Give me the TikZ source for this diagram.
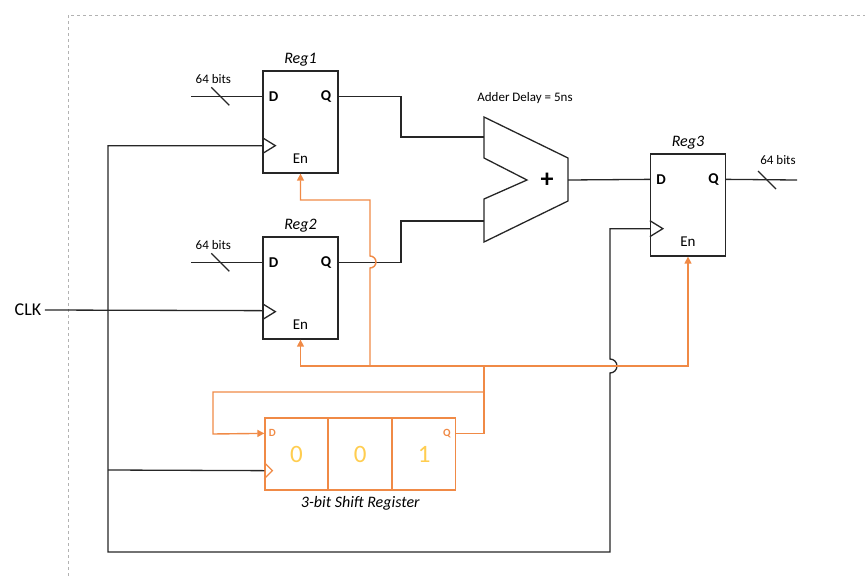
\documentclass[tikz,border=0pt]{standalone}
\usepackage{fontspec}
\setmainfont{Carlito}
\usetikzlibrary{arrows.meta,positioning}
\definecolor{wire}{RGB}{38,38,38}
\definecolor{sreg}{RGB}{240,138,70}
\definecolor{bitc}{RGB}{255,205,80}
\tikzset{
  reg/.style={draw=wire,line width=1.3pt,minimum width=75pt,minimum height=102pt,inner sep=0pt},
  cell/.style={draw=sreg,line width=1.3pt,minimum width=63pt,minimum height=72pt,inner sep=0pt},
  pin/.style={font=\bfseries\fontsize{15}{15}\selectfont},
  lbl/.style={font=\itshape\fontsize{16}{16}\selectfont},
  bits/.style={font=\fontsize{13}{13}\selectfont},
  bus/.style={sreg,line width=1.4pt},
  en/.style={bus,-{Triangle[width=7pt,length=7pt]}},
  w/.style={wire,line width=1.3pt}
}
\begin{document}
\begin{tikzpicture}[x=1pt,y=-1pt]
  \useasboundingbox (0,0) rectangle (865,576);
  \draw [gray!60,dashed] (68,576) -- (68,15) -- (865,15);
  % registers
  \node [reg] (r1) at (300.5,122) {};
  \node [reg] (r2) at (300.5,288) {};
  \node [reg] (r3) at (688,205) {};
  \foreach \r/\n in {r1/Reg1,r2/Reg2,r3/Reg3} {
    \node [lbl,above=1pt of \r.north] {\n};
    \node [pin,anchor=west] at ([xshift=3pt,yshift=-26pt]\r.north west) {D};
    \node [pin,anchor=east] at ([xshift=-4pt,yshift=-26pt]\r.north east) {Q};
    \node [font=\fontsize{15}{15}\selectfont] at ([yshift=15pt]\r.south) {En};
    \draw [w] ([yshift=28pt]\r.south west) ++(0,-8) -- ++(13,8) -- ++(-13,8);
  }
  % adder
  \draw [w] (484,117) -- (568,158) -- (568,201) -- (484,242) -- (484,199)
    -- (527,180) -- (484,158) -- cycle;
  \node [font=\bfseries\fontsize{26}{26}\selectfont] (plus) at (547,180) {+};
  \node [font=\fontsize{13}{13}\selectfont] at (525,98) {Adder Delay = 5ns};
  \coordinate (a1) at (484,137);
  \coordinate (a2) at (484,221);
  \coordinate (ao) at (568,180);
  % shift register
  \node [cell] (s0) at (296.5,454) {};
  \node [cell] (s1) at (s0.east) [anchor=west,xshift=-0.5pt] {};
  \node [cell] (s2) at (s1.east) [anchor=west,xshift=-0.5pt] {};
  \foreach \c/\v in {s0/0,s1/0,s2/1}
    \node [text=bitc,font=\fontsize{25}{25}\selectfont] at (\c) {\v};
  \node [sreg,font=\bfseries\fontsize{11}{11}\selectfont,anchor=west] at ([xshift=1pt,yshift=-16pt]s0.north west) {D};
  \node [sreg,font=\bfseries\fontsize{11}{11}\selectfont,anchor=east] at ([xshift=-2pt,yshift=-16pt]s2.north east) {Q};
  \draw [sreg,line width=1.3pt] ([yshift=20pt]s0.south west) ++(0,-8) -- ++(8,8) -- ++(-8,8);
  \node [lbl,below=2pt of s1.south] {3-bit Shift Register};
  % data inputs and output
  \foreach \r/\t in {r1/64 bits,r2/64 bits} {
    \coordinate (\r in) at ([xshift=-71pt,yshift=-26pt]\r.north west);
    \draw [w] (\r in) -- ([yshift=-26pt]\r.north west);
    \draw [w] ([xshift=20pt,yshift=9pt]\r in) -- ([xshift=38pt,yshift=-9pt]\r in);
    \node [bits] at ([xshift=22pt,yshift=17pt]\r in) {\t};
  }
  \coordinate (r3out) at (797,180);
  \draw [w] ([yshift=-26pt]r3.north east) -- (r3out);
  \draw [w] (758,171) -- (776,189);
  \node [bits] at (778,160) {64 bits};
  % datapath
  \draw [w] ([yshift=-26pt]r1.north east) -| (401,137) -- (a1);
  \draw [w] ([yshift=-26pt]r2.north east) -| (401,221) -- (a2);
  \draw [w] (ao) -- ([yshift=-26pt]r3.north west);
  % clock
  \node [font=\fontsize{18}{18}\selectfont] (clk) at (28,310) {CLK};
  \draw [w] (clk.east) -- ([yshift=29pt]r2.south west);
  \draw [w] ([yshift=28pt]r1.south west) -| (108,552) -| (610,373)
    arc [start angle=-90,end angle=90,radius=7pt] |- ([yshift=28pt]r3.south west);
  \draw [w] (108,470) -- ([yshift=20pt]s0.south west);
  % enable control
  \draw [bus] ([yshift=-16pt]s2.north east) -| (484,366);
  \draw [en] (484,392) -| (213,434) -- ([yshift=-16pt]s0.north west);
  \draw [en] (610,366) -| (r3.south);
  \draw [en] (610,366) -- (370,366) -| (r2.south);
  \draw [en] (370,366) -- (370,268)
    arc [start angle=-90,end angle=90,radius=6pt] -- (370,200) -| (r1.south);
\end{tikzpicture}
\end{document}
